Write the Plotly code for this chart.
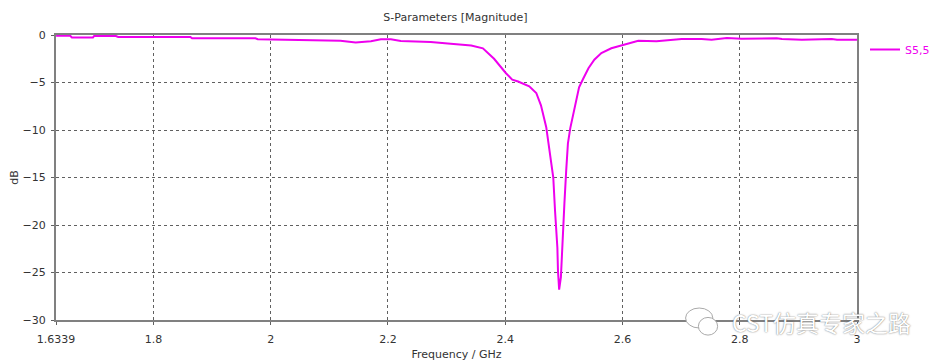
import plotly.graph_objects as go

freq_ghz = [1.634, 1.658, 1.661, 1.697, 1.699, 1.736, 1.740, 1.863, 1.866, 1.974,
            1.978, 2.051, 2.085, 2.119, 2.145, 2.171, 2.188, 2.205, 2.222, 2.273,
            2.307, 2.342, 2.362, 2.381, 2.401, 2.412, 2.422, 2.441, 2.453, 2.461,
            2.470, 2.477, 2.482, 2.485, 2.489, 2.490, 2.492, 2.495, 2.497, 2.501,
            2.504, 2.507, 2.511, 2.518, 2.526, 2.533, 2.542, 2.552, 2.564, 2.581,
            2.598, 2.615, 2.627, 2.658, 2.684, 2.701, 2.735, 2.752, 2.778, 2.803,
            2.863, 2.872, 2.906, 2.957, 2.966, 3.0]
s55_db = [-0.07, -0.07, -0.25, -0.25, -0.1, -0.1, -0.2, -0.2, -0.35, -0.35,
          -0.45, -0.5, -0.55, -0.6, -0.8, -0.65, -0.45, -0.45, -0.63, -0.74,
          -0.92, -1.1, -1.4, -2.5, -4.0, -4.7, -4.9, -5.4, -6.1, -7.4,
          -9.7, -12.5, -15.0, -18.5, -22.4, -24.8, -26.8, -25.5, -22.4, -17.7,
          -14.3, -11.4, -9.8, -7.9, -5.5, -4.6, -3.5, -2.6, -1.9, -1.4,
          -1.1, -0.77, -0.6, -0.67, -0.53, -0.42, -0.42, -0.49, -0.32, -0.39,
          -0.35, -0.42, -0.49, -0.42, -0.49, -0.49]

x_tickvals = [1.6339, 1.8, 2.0, 2.2, 2.4, 2.6, 2.8, 3.0]
x_ticktext = ["1.6339", "1.8", "2", "2.2", "2.4", "2.6", "2.8", "3"]
y_tickvals = [0, -5, -10, -15, -20, -25, -30]

FONT = "DejaVu Sans"

fig = go.Figure()
fig.add_trace(go.Scatter(x=freq_ghz, y=s55_db, mode="lines", name="S5,5",
                         line=dict(color="#ee00ee", width=2)))

axis_common = dict(showgrid=True, gridcolor="#606060", griddash="dot", gridwidth=1,
                   showline=True, linecolor="#808080", linewidth=2, mirror=True,
                   ticks="outside", ticklen=3, tickcolor="#606060", automargin=False,
                   zeroline=False, tickfont=dict(family=FONT, size=11, color="#333333"))

fig.update_xaxes(range=[1.6339, 3.0], tickvals=x_tickvals, ticktext=x_ticktext,
                 ticklabelstandoff=5,
                 title=dict(text="Frequency / GHz", font=dict(family=FONT, size=11, color="#333333"),
                            standoff=5),
                 **axis_common)
fig.update_yaxes(range=[-30, 0], tickvals=y_tickvals, ticklabelstandoff=3,
                 title=dict(text="dB", font=dict(family=FONT, size=11, color="#333333"),
                            standoff=10),
                 **axis_common)

# the page body adds an 8px offset, so margins are reduced by 8 on the left/top
fig.update_layout(
    width=940, height=364,
    margin=dict(l=48, r=91, t=27, b=52),
    paper_bgcolor="white", plot_bgcolor="white",
    title=dict(text="S-Parameters [Magnitude]", x=0.476, xanchor="center", y=0.975, yanchor="middle",
               font=dict(family=FONT, size=11, color="#333333"), automargin=False),
    showlegend=True,
    legend=dict(x=1.01, xanchor="left", y=1.0, yanchor="top", bgcolor="rgba(0,0,0,0)",
                font=dict(family=FONT, size=11, color="#ee00ee"), itemwidth=30),
)

# watermark: WeChat-style bubbles + text
fig.add_shape(type="circle", xref="paper", yref="paper", x0=0.786, x1=0.820, y0=-0.028, y1=0.042,
              line=dict(color="#aaaaaa", width=1), fillcolor="white")
fig.add_shape(type="circle", xref="paper", yref="paper", x0=0.802, x1=0.826, y0=-0.053, y1=0.009,
              line=dict(color="#aaaaaa", width=1), fillcolor="white")
fig.add_annotation(text="CST仿真专家之路", xref="paper", yref="paper", x=0.8415, y=-0.008,
                   xanchor="left", yanchor="middle", showarrow=False,
                   font=dict(family="Noto Sans CJK SC", size=23, color="white", shadow="0px 0px 1.5px #555"))

fig.write_html("out.html")
